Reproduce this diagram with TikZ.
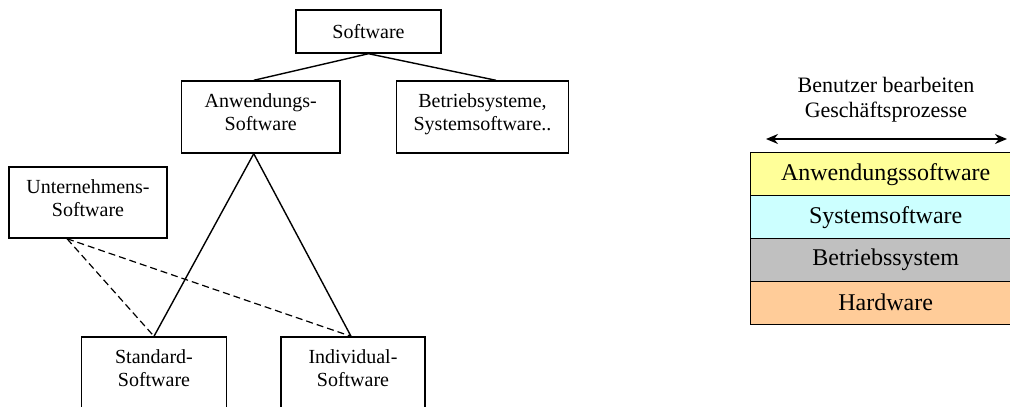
\documentclass[tikz,border=0pt]{standalone}
\usepackage{fontspec}
\setmainfont{Liberation Serif}
\usetikzlibrary{arrows.meta}
\definecolor{layYellow}{HTML}{FFFF99}
\definecolor{layCyan}{HTML}{CCFFFF}
\definecolor{layGray}{HTML}{C0C0C0}
\definecolor{layOrange}{HTML}{FFCC99}
\newcommand{\twolines}[2]{\raisebox{-3pt}[0pt][0pt]{\begin{tabular}{@{}c@{}}#1\\#2\end{tabular}}}
\begin{document}
\begin{tikzpicture}[x=1pt,y=-1pt,
  box/.style={draw, line width=1.4pt, inner sep=0pt, font=\fontsize{20}{23}\selectfont},
  layer/.style={draw, line width=1.4pt, inner sep=0pt, minimum width=275pt, minimum height=43pt, anchor=north west, font=\fontsize{24}{28}\selectfont},
  link/.style={line width=1.4pt},
  dlink/.style={line width=1.2pt, dash pattern=on 7pt off 4pt}]
\useasboundingbox (0,0) rectangle (1010,407);
\clip (0,0) rectangle (1010,407);
% left tree
\node[box, minimum width=145pt, minimum height=43pt] (sw) at (368.5,31.5) {Software};
\node[box, minimum width=158.5pt, minimum height=72pt] (aw) at (260.75,117) {\twolines{Anwendungs-}{Software}};
\node[box, minimum width=172pt, minimum height=72pt] (bs) at (482.5,117) {\twolines{Betriebsysteme,}{Systemsoftware..}};
\node[box, minimum width=158pt, minimum height=71pt] (un) at (88,202.5) {\twolines{Unternehmens-}{Software}};
\node[box, minimum width=145pt, minimum height=72pt] (st) at (154,373) {\twolines{Standard-}{Software}};
\node[box, minimum width=144pt, minimum height=72pt] (iv) at (353,373) {\twolines{Individual-}{Software}};
\draw[link] (sw.south) -- ([xshift=-7pt]aw.north);
\draw[link] (sw.south) -- ([xshift=13.5pt]bs.north);
\draw[link] ([xshift=-7pt]aw.south) -- (st.north);
\draw[link] ([xshift=-7pt]aw.south) -- ([xshift=-2pt]iv.north);
\draw[dlink] ([xshift=-21pt]un.south) -- (st.north);
\draw[dlink] ([xshift=-21pt]un.south) -- ([xshift=-2pt]iv.north);
% right stack
\node[align=center, inner sep=0pt, font=\fontsize{22}{25}\selectfont] (hd) at (886,100) {Benutzer bearbeiten\\Geschäftsprozesse};
\coordinate (al) at (766,139);
\coordinate (ar) at (1007,139);
\draw[line width=1.5pt, {Stealth[length=12pt,width=10pt]}-{Stealth[length=12pt,width=10pt]}] (al) -- (ar);
\node[layer, fill=layYellow] (l1) at (750,152) {\hspace*{-5pt}Anwendungssoftware};
\node[layer, fill=layCyan] (l2) at (750,195) {\hspace*{-5pt}Systemsoftware};
\node[layer, fill=layGray] (l3) at (750,238) {\hspace*{-5pt}Betriebssystem};
\node[layer, fill=layOrange] (l4) at (750,280.5) {\hspace*{-5pt}Hardware};
\end{tikzpicture}
\end{document}
